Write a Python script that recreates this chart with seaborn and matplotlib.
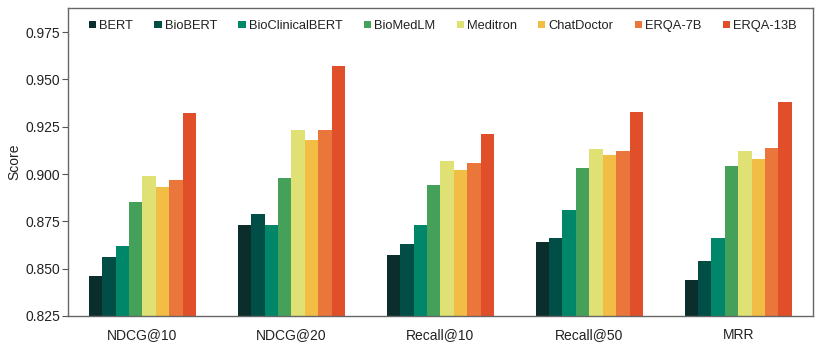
import matplotlib
matplotlib.use("Agg")
import matplotlib.pyplot as plt
import seaborn as sns
import pandas as pd

metrics = ["NDCG@10", "NDCG@20", "Recall@10", "Recall@50", "MRR"]
models = ["BERT", "BioBERT", "BioClinicalBERT", "BioMedLM", "Meditron",
          "ChatDoctor", "ERQA-7B", "ERQA-13B"]

bert = [0.846, 0.873, 0.857, 0.864, 0.844]
biobert = [0.856, 0.879, 0.863, 0.866, 0.854]
bioclinicalbert = [0.862, 0.873, 0.873, 0.881, 0.866]
biomedlm = [0.885, 0.898, 0.894, 0.903, 0.904]
meditron = [0.899, 0.923, 0.907, 0.913, 0.912]
chatdoctor = [0.893, 0.918, 0.902, 0.910, 0.908]
erqa_7b = [0.897, 0.923, 0.906, 0.912, 0.914]
erqa_13b = [0.932, 0.957, 0.921, 0.933, 0.938]

colors = ["#0b2d2b", "#004e46", "#00876a", "#45a05a", "#dfe174",
          "#f2bd45", "#eb763b", "#e04e2a"]

series = [bert, biobert, bioclinicalbert, biomedlm, meditron, chatdoctor,
          erqa_7b, erqa_13b]
rows = []
for m, vals in zip(models, series):
    for met, v in zip(metrics, vals):
        rows.append({"Metric": met, "Model": m, "Score": v})
df = pd.DataFrame(rows)

sns.set_theme(style="white")
plt.rcParams["font.family"] = ["Liberation Sans", "DejaVu Sans"]

fig = plt.figure(figsize=(8.31, 3.48), dpi=100)
ax = fig.add_axes([0.0818, 0.092, 0.8962, 0.885])

sns.barplot(data=df, x="Metric", y="Score", hue="Model", order=metrics,
            hue_order=models, palette=colors, saturation=1, width=0.72,
            linewidth=0, ax=ax, legend=True)

ax.set_ylim(0.825, 0.9877)
ax.set_xlim(-0.5, 4.5)
ax.set_yticks([0.825, 0.85, 0.875, 0.9, 0.925, 0.95, 0.975])
ax.set_yticklabels(["0.825", "0.850", "0.875", "0.900", "0.925", "0.950", "0.975"])
ax.set_xlabel("")
ax.set_ylabel("Score", fontsize=10, color="#222222", labelpad=3)
ax.tick_params(axis="both", labelsize=10, colors="#222222")
ax.tick_params(axis="y", which="major", left=True, length=4, width=0.8,
               color="#555555", pad=1.5)
ax.tick_params(axis="x", bottom=False, pad=3)
for s in ax.spines.values():
    s.set_color("#666666")
    s.set_linewidth(1.0)

leg = ax.legend(loc="upper left", bbox_to_anchor=(0.016, 0.99), ncol=8,
                frameon=False, fontsize=9.3, handlelength=0.55, handleheight=0.55,
                handletextpad=0.25, columnspacing=1.65, borderaxespad=0.3)
for t in leg.get_texts():
    t.set_color("#222222")

fig.savefig("out.png", dpi=100)
